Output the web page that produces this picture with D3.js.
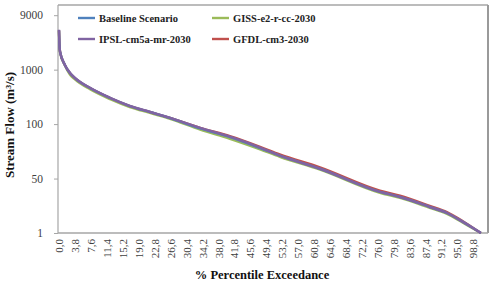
<!DOCTYPE html>
<html><head><meta charset="utf-8">
<script src="https://cdn.jsdelivr.net/npm/d3@7/dist/d3.min.js"></script>
<style>body{margin:0;background:#fff}svg{display:block}</style>
</head><body>
<svg id="c" width="494" height="281"></svg>
<script>
// ---- data ----
const percent  = [0, 0.1, 0.25, 1.4, 2.6, 3.8, 7.4, 12.2, 16.9, 21.7, 26.5, 33.7, 40.8, 48.0, 52.7, 62.3, 76.6, 81.4, 88.5, 92.6, 96.4, 98.8, 100.7];
const baseline = [6800, 4700, 3640, 1690, 944, 861, 696, 531, 399, 300, 201, 96, 88, 78, 71, 59, 38, 33.4, 24.4, 19, 11, 5.5, 1];
const ipsl     = [6850, 4750, 3600, 1700, 950, 865, 700, 535, 402, 303, 204, 96.5, 88.5, 78.5, 71, 59, 38, 33.4, 24.4, 19, 11, 5.5, 1];
const giss     = [6700, 4600, 3560, 1640, 920, 840, 675, 512, 382, 284, 188, 95, 86.5, 76.8, 70, 58.2, 37.2, 32.6, 23.6, 18.2, 10.2, 5, 1];
const gfdl     = [6800, 4700, 3640, 1690, 944, 861, 696, 531, 399, 300, 202, 96.5, 89, 79.2, 72.2, 60.3, 39.2, 34.6, 25.4, 19.8, 11.6, 5.8, 1];
const seriesNames = ["Baseline Scenario", "IPSL-cm5a-mr-2030", "GISS-e2-r-cc-2030", "GFDL-cm3-2030"];
const seriesColors = ["#4f81bd", "#8064a2", "#9bbb59", "#c0504d"];
const yTickValues = [1, 50, 100, 1000, 9000];
const xTickValues = [0, 3.8, 7.6, 11.4, 15.2, 19.0, 22.8, 26.6, 30.4, 34.2, 38.0, 41.8, 45.6, 49.4, 53.2, 57.0, 60.8, 64.6, 68.4, 72.2, 76.0, 79.8, 83.6, 87.4, 91.2, 95.0, 98.8];
const xTickLabels = ["0,0","3,8","7,6","11,4","15,2","19,0","22,8","26,6","30,4","34,2","38,0","41,8","45,6","49,4","53,2","57,0","60,8","64,6","68,4","72,2","76,0","79,8","83,6","87,4","91,2","95,0","98,8"];

// ---- layout ----
const L = 58, R = 488, T = 5, B = 233;
const svg = d3.select("#c");
const font = "'Liberation Serif','Times New Roman',serif";

const x = d3.scaleLinear().domain([0, 102.4]).range([59, R]);
const yStep = (B - 15.2) / (yTickValues.length - 1);
const y = d3.scaleLinear().domain(yTickValues).range(yTickValues.map((d, i) => B - i * yStep));

// frame
svg.append("line").attr("x1", L).attr("x2", R).attr("y1", T).attr("y2", T).attr("stroke", "#a6a6a6").attr("stroke-width", 1.5);
svg.append("line").attr("x1", R).attr("x2", R).attr("y1", T).attr("y2", B).attr("stroke", "#9a9a9a").attr("stroke-width", 2);
svg.append("line").attr("x1", L).attr("x2", L).attr("y1", T).attr("y2", B).attr("stroke", "#a6a6a6").attr("stroke-width", 1.2);
svg.append("line").attr("x1", L).attr("x2", R).attr("y1", B).attr("y2", B).attr("stroke", "#a6a6a6").attr("stroke-width", 1.5);

// y axis
const ya = svg.append("g").attr("transform", `translate(${L},0)`)
  .call(d3.axisLeft(y).tickValues(yTickValues).tickSize(4).tickPadding(11).tickFormat(d => String(d)));
ya.select(".domain").remove();
ya.selectAll(".tick line").attr("stroke", "#a6a6a6");
ya.selectAll("text").style("font-family", font).style("font-size", "11.5px").attr("fill", "#404040");

// x axis
const xa = svg.append("g").attr("transform", `translate(0,${B})`)
  .call(d3.axisBottom(x).tickValues(xTickValues).tickSize(0).tickFormat((d, i) => xTickLabels[i]));
xa.select(".domain").remove();
xa.selectAll("text").attr("transform", "rotate(-90)").attr("x", -6).attr("y", 0).attr("dy", "0.35em")
  .style("text-anchor", "end").style("font-family", font).style("font-size", "11px").attr("fill", "#404040");

// lines
const line = d3.line().x((d, i) => x(percent[i])).y(d => y(d)).curve(d3.curveMonotoneX);
const drawOrder = [[giss, 2], [gfdl, 3], [baseline, 0], [ipsl, 1]];
drawOrder.forEach(([vals, k]) => {
  svg.append("path").datum(vals).attr("d", line).attr("fill", "none")
    .attr("stroke", seriesColors[k]).attr("stroke-width", 2.4).attr("stroke-linejoin", "round");
});

// legend
const legPos = [[78, 18], [78, 39], [212, 18], [212, 39]];
seriesNames.forEach((n, k) => {
  const [lx, ly] = legPos[k];
  svg.append("line").attr("x1", lx).attr("x2", lx + 17).attr("y1", ly).attr("y2", ly)
    .attr("stroke", seriesColors[k]).attr("stroke-width", 2.4);
  svg.append("text").attr("x", lx + 21).attr("y", ly).attr("dy", "0.35em").text(n)
    .style("font-family", font).style("font-weight", "bold").style("font-size", "10.5px").attr("fill", "#222");
});

// axis titles
svg.append("text").attr("transform", "translate(14,125) rotate(-90)").attr("text-anchor", "middle")
  .style("font-family", font).style("font-weight", "bold").style("font-size", "13px").attr("fill", "#111")
  .text("Stream Flow (m³/s)");
svg.append("text").attr("x", 262).attr("y", 279).attr("text-anchor", "middle")
  .style("font-family", font).style("font-weight", "bold").style("font-size", "12.5px").attr("fill", "#111")
  .text("% Percentile Exceedance");
</script>
</body></html>
